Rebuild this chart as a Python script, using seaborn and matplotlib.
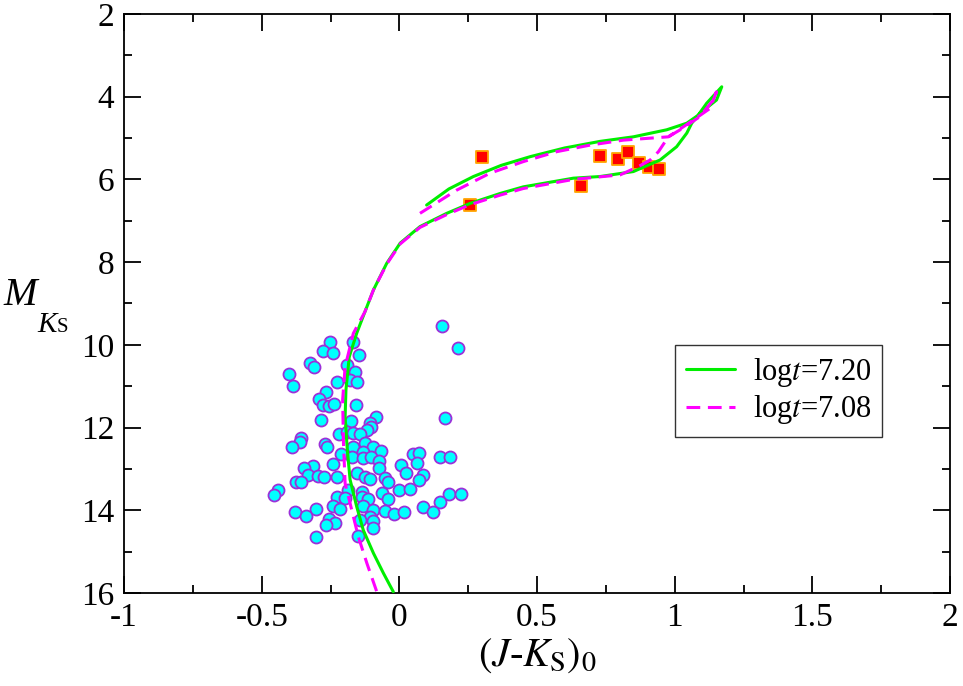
import matplotlib
matplotlib.use("Agg")
import matplotlib.pyplot as plt
import pandas as pd
import seaborn as sns
from matplotlib.ticker import MultipleLocator

# low-mass members (cyan circles)
jk_low = [0.156, 0.212, -0.252, -0.169, -0.278, -0.240, -0.145, -0.323, -0.310, -0.401,
          -0.387, -0.191, -0.161, -0.179, -0.155, -0.225, -0.268, -0.292, -0.276, -0.254,
          -0.237, -0.156, -0.284, -0.177, -0.086, -0.106, -0.103, -0.119, -0.220, -0.191,
          -0.169, -0.143, -0.357, -0.361, -0.391, -0.269, -0.262, -0.167, -0.125, -0.097,
          -0.066, -0.132, -0.212, -0.173, -0.131, -0.103, 0.051, 0.072, 0.147, 0.183,
          -0.073, 0.064, -0.241, -0.312, -0.346, -0.073, 0.005, 0.024, -0.331, -0.294,
          -0.272, -0.228, -0.155, -0.125, -0.106, -0.052, 0.087, 0.072, -0.040, -0.376,
          -0.359, -0.439, -0.456, -0.185, -0.137, -0.064, 0.000, 0.039, -0.043, -0.227,
          -0.196, -0.137, -0.114, 0.182, 0.224, 0.149, 0.085, 0.122, -0.242, -0.217,
          -0.131, -0.304, -0.380, -0.340, -0.097, -0.052, -0.018, 0.016, -0.106, -0.143,
          -0.254, -0.235, -0.266, -0.095, -0.096, -0.303, -0.149, 0.164]
mk_low = [9.54, 10.08, 9.94, 9.94, 10.15, 10.20, 10.24, 10.43, 10.53, 10.70,
          10.99, 10.49, 10.66, 10.85, 10.91, 10.91, 11.15, 11.31, 11.45, 11.49,
          11.43, 11.45, 11.82, 11.84, 11.74, 11.90, 11.99, 12.06, 12.15, 12.10,
          12.14, 12.15, 12.26, 12.34, 12.48, 12.40, 12.46, 12.46, 12.38, 12.46,
          12.56, 12.58, 12.64, 12.70, 12.74, 12.70, 12.64, 12.61, 12.71, 12.71,
          12.82, 12.86, 12.88, 12.92, 12.98, 12.98, 12.90, 13.10, 13.15, 13.17,
          13.19, 13.20, 13.10, 13.19, 13.24, 13.23, 13.15, 13.27, 13.31, 13.32,
          13.31, 13.51, 13.63, 13.51, 13.55, 13.59, 13.52, 13.49, 13.73, 13.67,
          13.71, 13.67, 13.73, 13.61, 13.61, 13.79, 13.91, 14.04, 13.90, 13.98,
          13.90, 13.98, 14.04, 14.15, 13.99, 14.02, 14.10, 14.04, 14.17, 14.23,
          14.21, 14.30, 14.36, 14.27, 14.44, 14.65, 14.62, 11.78]

# brighter members (red squares)
jk_high = [0.299, 0.258, 0.660, 0.728, 0.794, 0.832, 0.869, 0.908, 0.944]
mk_high = [5.47, 6.63, 6.17, 5.43, 5.51, 5.33, 5.61, 5.69, 5.75]

# isochrone log t = 7.20 (upper branch -> tip -> lower branch -> main sequence)
iso720_jk = [0.099, 0.180, 0.269, 0.370, 0.475, 0.600, 0.729, 0.850, 0.971, 1.044,
             1.085, 1.116, 1.171, 1.152, 1.092, 1.062, 1.044, 1.007, 0.947, 0.850,
             0.729, 0.632, 0.450, 0.366, 0.257, 0.172, 0.075, 0.003, -0.046, -0.094,
             -0.125, -0.155, -0.182, -0.194, -0.197, -0.189, -0.179, -0.155, -0.131, -0.094,
             -0.058, -0.022]
iso720_mk = [6.62, 6.23, 5.93, 5.66, 5.45, 5.24, 5.08, 4.97, 4.80, 4.64,
             4.45, 4.16, 3.76, 4.08, 4.40, 4.64, 4.88, 5.21, 5.53, 5.81,
             5.93, 5.97, 6.18, 6.34, 6.58, 6.82, 7.14, 7.54, 8.03, 8.67,
             9.20, 9.72, 10.29, 11.09, 11.74, 12.54, 13.26, 13.91, 14.48, 15.04,
             15.52, 15.97]

# isochrone log t = 7.08
iso708_jk = [0.075, 0.208, 0.329, 0.450, 0.571, 0.693, 0.814, 0.977, 1.060, 1.129,
             1.152, 1.135, 1.092, 1.020, 0.977, 0.941, 0.911, 0.868, 0.802, 0.632,
             0.450, 0.366, 0.257, 0.172, 0.075, 0.003, -0.046, -0.094, -0.125, -0.167,
             -0.197, -0.206, -0.203, -0.197, -0.173, -0.149, -0.118, -0.082]
iso708_mk = [6.82, 6.26, 5.85, 5.57, 5.33, 5.17, 5.05, 4.97, 4.60, 4.28,
             3.88, 4.12, 4.48, 4.80, 4.97, 5.33, 5.53, 5.69, 5.89, 6.00,
             6.22, 6.38, 6.61, 6.85, 7.16, 7.56, 8.05, 8.67, 9.20, 9.72,
             10.53, 11.33, 12.38, 13.35, 13.99, 14.64, 15.28, 15.97]

sns.set_style("ticks")
plt.rcParams["font.family"] = ["Liberation Serif", "DejaVu Serif"]
plt.rcParams["mathtext.fontset"] = "stix"
for key in ["text.color", "axes.labelcolor", "xtick.color", "ytick.color", "axes.edgecolor"]:
    plt.rcParams[key] = "black"

W, H = 963, 686
fig, ax = plt.subplots(figsize=(W / 100, H / 100), dpi=100)
fig.subplots_adjust(left=0.1288, right=0.9865, bottom=0.1356, top=0.9796)

sns.scatterplot(x=jk_low, y=mk_low, ax=ax, s=75, color="#00ffff",
                edgecolor="#9b30d9", linewidth=1.3, zorder=2)
sns.scatterplot(x=jk_high, y=mk_high, ax=ax, marker="s", s=75, color="#ff0000",
                edgecolor="#ffa500", linewidth=1.3, zorder=2)

df720 = pd.DataFrame({"jk": iso720_jk, "mk": iso720_mk})
df708 = pd.DataFrame({"jk": iso708_jk, "mk": iso708_mk})
sns.lineplot(data=df720, x="jk", y="mk", sort=False, estimator=None, ax=ax,
             color="#00ee00", linewidth=2.2, label=r"log$t$=7.20", zorder=3)
sns.lineplot(data=df708, x="jk", y="mk", sort=False, estimator=None, ax=ax,
             color="#ff00ff", linewidth=2.2, label=r"log$t$=7.08", zorder=3)
ax.lines[-1].set_dashes([4.5, 2.5])

ax.set_xlim(-1, 2)
ax.set_ylim(16, 2)
ax.xaxis.set_minor_locator(MultipleLocator(0.25))
ax.yaxis.set_major_locator(MultipleLocator(2))
ax.yaxis.set_minor_locator(MultipleLocator(1))
ax.set_xticks([-1, -0.5, 0, 0.5, 1, 1.5, 2])
ax.set_xticklabels(["-1", "-0.5", "0", "0.5", "1", "1.5", "2"])

ax.tick_params(which="both", direction="in", top=True, right=True, width=1.3,
               labelsize=24, pad=7)
ax.tick_params(which="major", length=12)
ax.tick_params(which="minor", length=6)
for sp in ax.spines.values():
    sp.set_linewidth(1.3)

ax.set_xlabel(r"$(J$-$K_{\rm S})_0$", fontsize=29)
ax.xaxis.set_label_coords(0.5, -0.075)
ax.set_ylabel("")

# y label M_{K_S} built from pieces to get the deep subscript
fig.text(3 / W, 1 - 305 / H, "M", fontsize=29, style="italic", ha="left", va="baseline")
fig.text(37 / W, 1 - 332 / H, "K", fontsize=21, style="italic", ha="left", va="baseline")
fig.text(57 / W, 1 - 332 / H, "S", fontsize=15, ha="left", va="baseline")

leg = ax.legend(loc="upper left", bbox_to_anchor=(0.667, 0.428), fontsize=22,
                frameon=True, fancybox=False, handlelength=1.6, handletextpad=0.6,
                borderpad=0.35, labelspacing=0.15, borderaxespad=0)
leg.get_frame().set_edgecolor("black")
leg.get_frame().set_linewidth(1.0)

fig.savefig("out.png", dpi=100)
